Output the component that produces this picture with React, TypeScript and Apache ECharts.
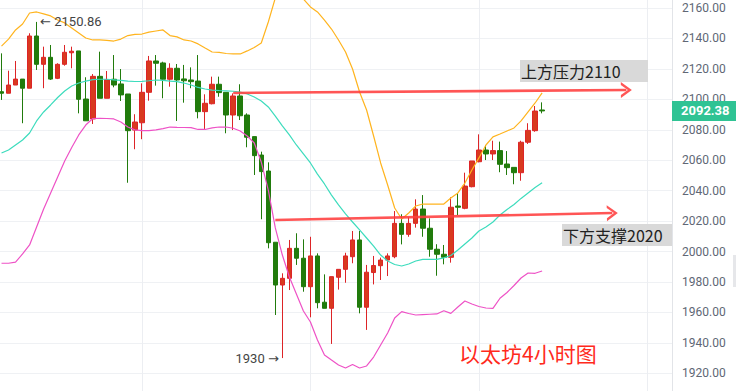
import React, { useEffect, useRef } from 'react';
import * as echarts from 'echarts';

// ---------- data ----------
const slotCount = 96;
const categories: string[] = Array.from({ length: slotCount }, (_, i) => `K${i}`);

// [open, close, low, high]
const ohlc: number[][] = [
  [2105.0, 2104.0, 2099.6, 2130.2],
  [2104.0, 2109.4, 2104.0, 2118.8],
  [2109.4, 2113.3, 2109.4, 2125.2],
  [2113.3, 2107.3, 2084.3, 2113.3],
  [2107.3, 2141.6, 2107.3, 2143.4],
  [2141.6, 2123.0, 2119.3, 2150.86],
  [2123.0, 2127.6, 2107.3, 2134.6],
  [2127.6, 2113.3, 2112.7, 2135.7],
  [2113.8, 2123.0, 2113.3, 2123.7],
  [2123.0, 2130.9, 2122.1, 2135.7],
  [2130.6, 2131.6, 2120.4, 2134.6],
  [2131.8, 2100.0, 2090.8, 2131.8],
  [2100.2, 2085.9, 2085.9, 2114.5],
  [2087.1, 2115.1, 2083.8, 2116.6],
  [2115.1, 2100.7, 2100.7, 2131.3],
  [2100.7, 2112.9, 2100.7, 2118.6],
  [2113.2, 2109.4, 2107.9, 2129.1],
  [2110.1, 2102.9, 2098.9, 2119.9],
  [2103.5, 2079.4, 2045.2, 2103.5],
  [2079.8, 2085.1, 2067.2, 2090.2],
  [2084.6, 2104.6, 2073.8, 2110.5],
  [2104.6, 2125.2, 2099.1, 2128.5],
  [2125.2, 2123.7, 2109.0, 2129.1],
  [2123.9, 2113.2, 2100.7, 2124.7],
  [2113.2, 2120.4, 2108.3, 2123.7],
  [2120.4, 2112.7, 2085.8, 2123.2],
  [2113.4, 2112.2, 2097.8, 2122.6],
  [2112.7, 2111.6, 2107.3, 2121.0],
  [2112.0, 2091.9, 2087.5, 2129.1],
  [2091.9, 2097.4, 2080.5, 2103.3],
  [2097.1, 2109.9, 2096.7, 2114.9],
  [2109.9, 2104.4, 2101.7, 2114.9],
  [2104.6, 2089.7, 2077.7, 2104.6],
  [2089.7, 2102.2, 2079.8, 2103.9],
  [2102.2, 2089.2, 2086.4, 2109.9],
  [2089.7, 2075.1, 2068.5, 2090.8],
  [2075.5, 2063.0, 2050.3, 2075.5],
  [2063.4, 2052.5, 2021.2, 2065.6],
  [2052.9, 2005.8, 2002.1, 2058.6],
  [2006.1, 1978.0, 1958.3, 2006.1],
  [1978.0, 1982.4, 1930.0, 1985.7],
  [1982.4, 2002.1, 1974.7, 2007.6],
  [2002.1, 1995.6, 1991.2, 2012.0],
  [1995.6, 1976.9, 1973.6, 2008.0],
  [1976.9, 1997.1, 1956.8, 2009.7],
  [1997.1, 1966.4, 1962.7, 1998.8],
  [1966.7, 1962.7, 1962.7, 1985.0],
  [1962.7, 1983.5, 1939.3, 1983.5],
  [1983.1, 1988.3, 1975.0, 1988.3],
  [1988.3, 1997.1, 1979.5, 1999.2],
  [1996.6, 2007.6, 1992.3, 2013.5],
  [2007.6, 1963.4, 1959.4, 2013.5],
  [1963.4, 1986.4, 1948.5, 1991.2],
  [1986.2, 1990.8, 1978.4, 1997.1],
  [1990.7, 1994.4, 1981.3, 1996.0],
  [1994.4, 1997.1, 1983.9, 1998.8],
  [1996.6, 2018.5, 1995.6, 2026.6],
  [2018.5, 2011.3, 2004.7, 2024.5],
  [2011.3, 2018.5, 2009.7, 2022.5],
  [2018.5, 2027.9, 2015.7, 2034.3],
  [2027.9, 2015.3, 2009.7, 2037.1],
  [2015.3, 2001.5, 1996.6, 2021.8],
  [2001.5, 1998.2, 1984.1, 2004.8],
  [1998.2, 1996.2, 1991.6, 2004.3],
  [1996.2, 2029.1, 1992.7, 2035.6],
  [2029.9, 2029.1, 2024.0, 2038.3],
  [2028.4, 2043.0, 2027.8, 2051.8],
  [2042.6, 2059.5, 2042.2, 2059.5],
  [2059.0, 2066.7, 2058.6, 2077.0],
  [2066.7, 2064.1, 2060.1, 2070.0],
  [2064.1, 2066.3, 2060.1, 2072.8],
  [2066.3, 2057.3, 2052.1, 2072.2],
  [2057.5, 2055.1, 2050.3, 2066.0],
  [2055.3, 2051.8, 2044.2, 2055.3],
  [2051.8, 2071.8, 2046.5, 2072.8],
  [2071.8, 2079.6, 2070.7, 2084.3],
  [2079.4, 2092.3, 2078.7, 2095.6],
  [2093.0, 2092.38, 2090.8, 2098.0],
];

const upperBand: number[] = [
  2135.0, 2139.6, 2145.6, 2149.5, 2156.7, 2157.4, 2156.1, 2154.8, 2152.1, 2150.2,
  2146.9, 2143.6, 2140.3, 2139.0, 2139.0, 2138.7, 2138.3, 2139.6, 2141.9, 2142.7,
  2142.9, 2144.2, 2144.9, 2145.6, 2141.9, 2141.0, 2139.0, 2138.3, 2136.4, 2133.7,
  2131.1, 2130.8, 2130.1, 2129.8, 2129.8, 2131.8, 2134.1, 2137.0, 2150.8, 2166.6,
  2171.8, 2173.1, 2170.5, 2165.9, 2160.7, 2157.4, 2152.1, 2146.2, 2139.0, 2131.1,
  2119.9, 2104.8, 2093.0, 2075.9, 2058.2, 2043.7, 2028.6, 2021.4, 2025.3, 2029.9,
  2031.2, 2031.2, 2031.2, 2031.2, 2035.2, 2038.5, 2045.0, 2053.6, 2061.5, 2070.0,
  2075.3, 2077.2, 2079.2, 2081.2, 2085.8, 2091.7, 2097.6, 2104.2,
];

const midBand: number[] = [
  2064.7, 2066.7, 2070.0, 2073.3, 2077.9, 2085.8, 2091.7, 2096.3, 2101.2, 2105.5,
  2108.8, 2110.7, 2112.0, 2113.0, 2113.2, 2113.2, 2112.8, 2112.4, 2112.0, 2111.7,
  2111.8, 2112.2, 2112.7, 2112.4, 2112.0, 2111.6, 2110.7, 2109.4, 2107.8, 2106.8,
  2106.1, 2105.8, 2105.6, 2105.3, 2104.8, 2103.5, 2101.5, 2098.9, 2095.0, 2089.0,
  2082.5, 2076.6, 2070.0, 2064.1, 2058.2, 2050.9, 2044.4, 2037.1, 2030.6, 2024.7,
  2019.4, 2014.2, 2008.9, 2003.6, 1997.7, 1993.8, 1991.5, 1990.5, 1991.8, 1993.8,
  1994.9, 1994.9, 1994.9, 1995.8, 1997.4, 2001.0, 2005.0, 2008.9, 2013.5, 2016.1,
  2019.4, 2024.0, 2027.6, 2030.9, 2034.9, 2038.5, 2042.1, 2045.2,
];

const lowerBand: number[] = [
  1992.3, 1992.3, 1993.1, 1998.4, 2004.3, 2016.1, 2027.9, 2038.5, 2049.0, 2059.5,
  2068.4, 2076.6, 2083.1, 2087.4, 2087.5, 2087.4, 2087.1, 2085.1, 2081.8, 2079.9,
  2079.4, 2079.5, 2079.9, 2080.8, 2081.8, 2081.6, 2081.5, 2081.4, 2080.2, 2080.2,
  2081.2, 2081.8, 2081.8, 2081.0, 2079.2, 2075.9, 2071.3, 2058.8, 2040.4, 2015.5,
  1997.7, 1983.3, 1972.1, 1960.9, 1953.7, 1941.9, 1932.0, 1928.7, 1925.5, 1923.5,
  1925.8, 1923.5, 1924.8, 1930.7, 1938.6, 1946.5, 1956.3, 1960.5, 1959.3, 1958.3,
  1958.6, 1958.8, 1959.0, 1961.1, 1959.4, 1963.6, 1967.5, 1965.5, 1963.9, 1962.9,
  1962.6, 1969.3, 1973.1, 1977.7, 1982.6, 1985.9, 1985.7, 1987.2,
];

const yMin = 1900;
const yMax = 2180;
const yStep = 20;
const gridColumns: number[] = [20, 44, 68, 92];
const lastPrice = 2092.38;
const highPoint: [number, number] = [5, 2150.86];
const lowPoint: [number, number] = [40, 1930];
const resistanceLine: [number, number][] = [[33, 2104.2], [89, 2106.1]];
const supportLine: [number, number][] = [[39, 2020.7], [87, 2025.3]];
const resistanceText = '上方压力2110';
const supportText = '下方支撑2020';
const titleText = '以太坊4小时图';

// ---------- layout ----------
const OX = -10; // inner chart div offset (page px)
const OY = -30;
const W = 746;
const H = 451;

const RED = '#d83a1f';
const RED_BORDER = '#dd2427';
const GREEN = '#217b0c';
const chevron = 'path://M0,10 L7,0 L14,10 L11.4,10 L7,3.6 L2.6,10 Z';

export default function App() {
  const ref = useRef<HTMLDivElement>(null);

  useEffect(() => {
    if (!ref.current) return;
    const chart = echarts.init(ref.current, undefined, { renderer: 'svg' });
    const px = (x: number) => x - OX;
    const py = (y: number) => y - OY;
    const cjk = '"Noto Sans CJK SC", "Noto Sans", sans-serif';
    const num = 'Roboto, "DejaVu Sans", sans-serif';

    chart.setOption({
      animation: false,
      grid: { left: 8, right: 64, top: 7.56, bottom: 17.26, containLabel: false },
      xAxis: {
        type: 'category',
        data: categories,
        boundaryGap: true,
        axisLine: { show: false },
        axisTick: { show: false },
        axisLabel: { show: false },
        splitLine: { show: false },
      },
      yAxis: {
        type: 'value',
        position: 'right',
        min: yMin,
        max: yMax,
        interval: yStep,
        axisLine: { show: true, lineStyle: { color: '#e2e4e8' } },
        axisTick: { show: false },
        axisLabel: {
          color: '#606775',
          fontSize: 12,
          fontFamily: num,
          margin: 10,
          showMinLabel: false,
          showMaxLabel: false,
          formatter: (v: number) => v.toFixed(2),
        },
        splitLine: { show: true, lineStyle: { color: '#eff1f4', width: 1 } },
      },
      series: [
        {
          type: 'line',
          data: [],
          z: 0,
          silent: true,
          markLine: {
            silent: true,
            z: 1,
            symbol: ['none', 'none'],
            label: { show: false },
            lineStyle: { color: '#eceef2', type: 'solid', width: 1 },
            data: gridColumns.map((i) => ({ xAxis: i })),
          },
        },
        {
          type: 'candlestick',
          data: ohlc,
          barWidth: 5,
          z: 2,
          silent: true,
          itemStyle: {
            color: RED,
            color0: GREEN,
            borderColor: RED_BORDER,
            borderColor0: GREEN,
            borderWidth: 1,
          },
          markPoint: {
            silent: true,
            symbol: 'circle',
            symbolSize: 1,
            itemStyle: { color: 'rgba(0,0,0,0)' },
            label: { show: true, color: '#444', fontSize: 13, fontFamily: num },
            data: [
              {
                coord: highPoint,
                label: { position: 'right', distance: 3, formatter: '← ' + highPoint[1].toFixed(2) },
              },
              {
                coord: lowPoint,
                label: { position: 'left', distance: 3, formatter: String(lowPoint[1]) + ' →' },
              },
            ],
          },
          markLine: {
            silent: true,
            z: 7,
            symbol: ['none', 'none'],
            lineStyle: { color: 'rgba(0,0,0,0)', width: 0 },
            label: {
              show: true,
              position: 'end',
              distance: 0,
              formatter: lastPrice.toFixed(2),
              color: '#ffffff',
              backgroundColor: '#2fc394',
              fontSize: 13,
              fontWeight: 'bold',
              fontFamily: num,
              padding: [4, 10, 3, 9],
            },
            data: [{ yAxis: lastPrice }],
          },
        },
        {
          type: 'line',
          data: upperBand,
          symbol: 'none',
          silent: true,
          z: 3,
          lineStyle: { color: '#ffb41e', width: 1.2 },
        },
        {
          type: 'line',
          data: midBand,
          symbol: 'none',
          silent: true,
          z: 3,
          lineStyle: { color: '#3ddcbd', width: 1.2 },
        },
        {
          type: 'line',
          data: lowerBand,
          symbol: 'none',
          silent: true,
          z: 3,
          lineStyle: { color: '#ee52c6', width: 1.2 },
        },
        {
          type: 'line',
          data: [],
          silent: true,
          z: 5,
          markLine: {
            silent: true,
            z: 6,
            symbol: ['none', chevron],
            symbolSize: [16, 11],
            label: { show: false },
            lineStyle: { color: 'rgba(255,62,62,0.88)', width: 2.6, type: 'solid' },
            data: [
              [{ coord: resistanceLine[0] }, { coord: resistanceLine[1] }],
              [{ coord: supportLine[0] }, { coord: supportLine[1] }],
            ],
          },
        },
      ],
      graphic: [
        {
          type: 'rect',
          z: 10,
          shape: { x: px(520), y: py(60), width: 128, height: 22 },
          style: { fill: '#d9d9d9' },
        },
        {
          type: 'text',
          z: 11,
          x: px(521),
          y: py(71),
          style: {
            text: resistanceText,
            fill: '#222',
            font: `16px ${cjk}`,
            verticalAlign: 'middle',
            align: 'left',
          },
        },
        {
          type: 'rect',
          z: 10,
          shape: { x: px(562), y: py(224), width: 110, height: 22 },
          style: { fill: '#d9d9d9' },
        },
        {
          type: 'text',
          z: 11,
          x: px(563),
          y: py(235),
          style: {
            text: supportText,
            fill: '#222',
            font: `16px ${cjk}`,
            verticalAlign: 'middle',
            align: 'left',
          },
        },
        {
          type: 'text',
          z: 11,
          x: px(459),
          y: py(353),
          style: {
            text: titleText,
            fill: '#ff2a1c',
            font: `21px ${cjk}`,
            verticalAlign: 'middle',
            align: 'left',
          },
        },
        {
          type: 'rect',
          z: 10,
          shape: { x: px(733), y: py(255), width: 4, height: 32 },
          style: { fill: '#e6e7ea' },
        },
      ],
    });

    return () => {
      chart.dispose();
    };
  }, []);

  return (
    <div
      style={{
        position: 'fixed',
        left: 0,
        top: 0,
        width: 736,
        height: 391,
        overflow: 'hidden',
        background: '#ffffff',
      }}
    >
      <div
        ref={ref}
        style={{ position: 'absolute', left: OX, top: OY, width: W, height: H }}
      />
    </div>
  );
}
